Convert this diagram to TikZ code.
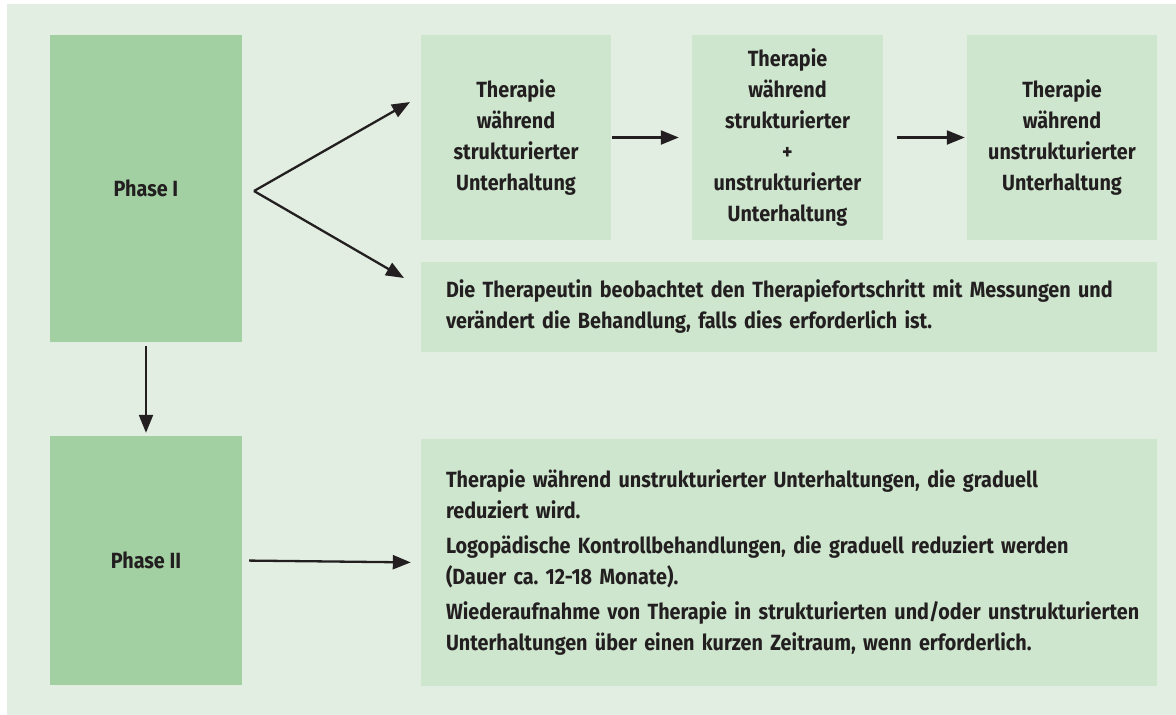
\documentclass[tikz,border=0pt]{standalone}
\usepackage{fontspec}
\setmainfont{Fira Sans}[FakeStretch=0.9]
\usetikzlibrary{arrows.meta}
\definecolor{bgc}{HTML}{E3EEE2}
\definecolor{darkbox}{HTML}{A2D0A2}
\definecolor{lightbox}{HTML}{CEE6CE}
\definecolor{txt}{HTML}{231F20}
\frenchspacing
\newcommand\oneline[1]{\mbox{#1}}
\tikzset{
  boxfont/.style={font=\bfseries\fontsize{22}{31}\selectfont, text=txt},
  phasebox/.style={boxfont, fill=darkbox, draw=none, minimum width=192pt, inner sep=0pt},
  stagebox/.style={boxfont, fill=lightbox, draw=none, minimum width=190pt, minimum height=205pt, align=center, inner sep=0pt},
  widebox/.style={boxfont, fill=lightbox, draw=none, align=left, text width=686pt, inner xsep=25pt, inner ysep=0pt},
  arr/.style={line width=2.3pt, draw=txt, -{Triangle[length=18pt,width=14pt]}}
}
\begin{document}
\begin{tikzpicture}[x=1pt,y=-1pt]
\useasboundingbox (0,0) rectangle (1176,715);
\fill[bgc] (7,4) rectangle (1176,715);

\node[phasebox, minimum height=307pt] (p1) at (146,188.5) {Phase I};
\node[phasebox, minimum height=249pt] (p2) at (146,560.5) {Phase II};

\node[stagebox] (b1) at (516,137.5) {Therapie\\während\\strukturierter\\Unterhaltung};
\node[stagebox, minimum width=191pt] (b2) at (787.5,137.5) {Therapie\\während\\strukturierter\\+\\unstrukturierter\\Unterhaltung};
\node[stagebox] (b3) at (1062,137.5) {Therapie\\während\\unstrukturierter\\Unterhaltung};

\node[widebox, minimum height=90pt] (obs) at (789,307) {\oneline{Die Therapeutin beobachtet den Therapiefortschritt mit Messungen und}\\\oneline{verändert die Behandlung, falls dies erforderlich ist.}};

\node[widebox, minimum height=247pt] (r2) at (789,562.5) {\oneline{Therapie während unstrukturierter Unterhaltungen, die graduell}\\\oneline{reduziert wird.}\\[4pt]\oneline{Logopädische Kontrollbehandlungen, die graduell reduziert werden}\\\oneline{(Dauer ca. 12-18 Monate).}\\[4pt]\oneline{Wiederaufnahme von Therapie in strukturierten und/oder unstrukturierten}\\\oneline{Unterhaltungen über einen kurzen Zeitraum, wenn erforderlich.}};

\coordinate (fork) at (254,191);
\coordinate (tipA) at (410,102);
\coordinate (tipB) at (404,278);

\draw[arr] (fork) -- (tipA);
\draw[arr] (fork) -- (tipB);
\draw[arr, shorten <=1pt, shorten >=13pt] (b1.east) -- (b2.west);
\draw[arr, shorten <=14pt, shorten >=2pt] (b2.east) -- (b3.west);
\draw[arr, shorten <=4pt, shorten >=3pt] (p1.south) -- (p2.north);
\draw[arr, shorten <=7pt, shorten >=10pt] (p2.east) -- (r2.west);
\end{tikzpicture}
\end{document}
